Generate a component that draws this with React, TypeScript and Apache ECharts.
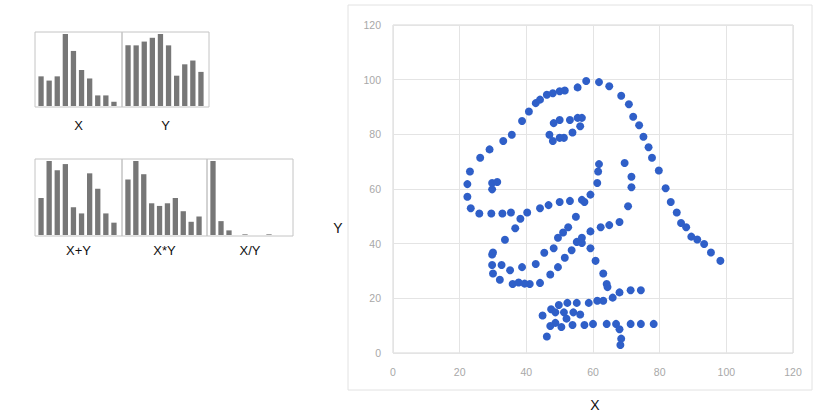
import React, { useEffect, useRef } from "react";
import * as echarts from "echarts";

const dinoX = [55.3846,51.5385,46.1538,42.8205,40.7692,38.7179,35.641,33.0769,28.9744,26.1538,23.0769,22.3077,22.3077,23.3333,25.8974,29.4872,32.8205,35.3846,40.2564,44.1026,46.6667,50,53.0769,56.6667,59.2308,61.2821,61.5385,61.7949,57.4359,54.8718,52.5641,48.2051,49.4872,51.0256,45.3846,42.8205,38.7179,35.1282,32.5641,30,33.5897,36.6667,38.2051,29.7436,29.7436,30,32.0513,35.8974,41.0256,44.1026,47.1795,49.4872,51.5385,53.5897,55.1282,56.6667,59.2308,62.3077,64.8718,67.9487,70.5128,71.5385,71.5385,69.4872,46.9231,48.2051,50,53.0769,55.3846,56.6667,56.1538,53.8462,51.2821,50,47.9487,29.7436,29.7436,31.2821,57.9487,61.7949,64.8718,68.4615,70.7692,72.0513,73.8462,75.1282,76.6667,77.6923,79.7436,81.7949,83.3333,85.1282,86.4103,87.9487,89.4872,93.3333,95.3846,98.2051,56.6667,59.2308,60.7692,63.0769,64.1026,64.359,74.359,71.2821,67.9487,65.8974,63.0769,61.2821,58.7179,55.1282,52.3077,49.7436,47.4359,44.8718,48.7179,51.2821,54.1026,56.1538,52.0513,48.7179,47.1795,46.1538,50.5128,53.8462,57.4359,60,64.1026,66.9231,71.2821,74.359,78.2051,67.9487,68.4615,68.2051,37.6923,39.4872,91.2821,50,47.9487,44.1026];
const dinoY = [97.1795,96.0256,94.4872,91.4103,88.3333,84.8718,79.8718,77.5641,74.4872,71.4103,66.4103,61.7949,57.1795,52.9487,51.0256,51.0256,51.0256,51.4103,51.4103,52.9487,54.1026,55.2564,55.641,56.0256,57.9487,62.1795,66.4103,69.1026,55.2564,49.8718,46.0256,38.3333,42.1795,44.1026,36.6667,32.5641,31.4103,30.2564,32.1795,36.7949,41.4103,45.641,49.1026,36.0256,32.1795,29.1026,26.7949,25.2564,25.2564,25.641,28.718,31.4103,34.8718,37.5641,40.641,42.1795,44.4872,46.0256,46.7949,47.9487,53.718,60.641,64.4872,69.4872,79.8718,84.1026,85.2564,85.2564,86.0256,86.0256,82.9487,80.641,78.718,78.718,77.5641,59.8718,62.1795,62.5641,99.4872,99.1026,97.5641,94.1026,91.0256,86.4103,83.3333,79.1026,75.2564,71.4103,66.7949,60.2564,55.2564,51.4103,47.5641,46.0256,42.5641,39.8718,36.7949,33.718,40.2564,38.3333,33.718,29.1026,25.2564,24.1026,22.9487,22.9487,22.1795,20.2564,19.1026,19.1026,18.3333,18.3333,18.3333,17.5641,16.0256,13.718,14.8718,14.8718,14.8718,14.1026,12.5641,11.0256,9.8718,6.0256,9.4872,10.2564,10.2564,10.641,10.641,10.641,10.641,10.641,10.641,8.718,5.2564,2.9487,25.7692,25.3846,41.5385,95.7692,95,92.6923];

const histX = [14, 12, 14, 34, 26, 17, 13, 5, 5, 2];
const histY = [16, 16, 17, 18, 19, 16, 8, 11, 12, 9];
const histXplusY = [12, 24, 21, 23, 9, 7, 20, 15, 7, 4];
const histXtimesY = [21, 28, 23, 12, 11, 12, 14, 9, 5, 7];
const histXdivY = [112, 21, 7, 0, 1, 0, 0, 1, 0, 0];
const binCats = ["1", "2", "3", "4", "5", "6", "7", "8", "9", "10"];

const axisTicks = [0, 20, 40, 60, 80, 100, 120];

const panels = [
  { name: "X", data: histX, left: 35, top: 32, w: 87, h: 75, labelGap: 18 },
  { name: "Y", data: histY, left: 122, top: 32, w: 87, h: 75, labelGap: 18 },
  { name: "X+Y", data: histXplusY, left: 35, top: 159, w: 87, h: 77, labelGap: 14 },
  { name: "X*Y", data: histXtimesY, left: 122, top: 159, w: 85, h: 77, labelGap: 14 },
  { name: "X/Y", data: histXdivY, left: 207, top: 159, w: 86, h: 77, labelGap: 14 },
];

export default function App() {
  const ref = useRef<HTMLDivElement>(null);
  useEffect(() => {
    if (!ref.current) return;
    const chart = echarts.init(ref.current, undefined, { renderer: "svg" });
    const font = "Liberation Sans, Arial, sans-serif";

    const grids: any[] = [];
    const xAxes: any[] = [];
    const yAxes: any[] = [];
    const series: any[] = [];
    const graphics: any[] = [];

    grids.push({ left: 393, top: 25, width: 400, height: 328, show: true, borderColor: "#d6d6d6", borderWidth: 1, containLabel: false });
    xAxes.push({
      type: "value", gridIndex: 0, min: axisTicks[0], max: axisTicks[axisTicks.length - 1], interval: 20,
      axisLine: { show: false }, axisTick: { show: false },
      splitLine: { show: true, lineStyle: { color: "#e4e4e4", width: 1 } },
      axisLabel: { color: "#a8a8a8", fontSize: 10.5, margin: 13, fontFamily: font },
    });
    yAxes.push({
      type: "value", gridIndex: 0, min: axisTicks[0], max: axisTicks[axisTicks.length - 1], interval: 20,
      axisLine: { show: false }, axisTick: { show: false },
      splitLine: { show: true, lineStyle: { color: "#e4e4e4", width: 1 } },
      axisLabel: { color: "#a8a8a8", fontSize: 10.5, margin: 12, fontFamily: font },
    });
    series.push({
      type: "scatter", xAxisIndex: 0, yAxisIndex: 0, symbolSize: 8,
      itemStyle: { color: "#2f5fc8", opacity: 1 },
      data: dinoX.map((x, i) => [x, dinoY[i]]),
    });

    panels.forEach((p, k) => {
      const gi = k + 1;
      grids.push({ left: p.left + 2, top: p.top + 2, width: p.w - 6, height: p.h - 3, show: false });
      xAxes.push({ type: "category", gridIndex: gi, data: binCats, show: false, boundaryGap: true });
      yAxes.push({ type: "value", gridIndex: gi, min: 0, max: Math.max(...p.data), show: false });
      series.push({
        type: "bar", xAxisIndex: gi, yAxisIndex: gi, data: p.data, barWidth: 5.3,
        itemStyle: { color: "#777777", borderWidth: 0 },
      });
      graphics.push({
        type: "rect", shape: { x: p.left, y: p.top, width: p.w, height: p.h },
        style: { fill: "none", stroke: "#c4c4c4", lineWidth: 1 }, z: 10,
      });
      graphics.push({
        type: "text", x: p.left + p.w / 2, y: p.top + p.h + p.labelGap,
        style: { text: p.name, fill: "#111", font: `13px ${font}`, align: "center", verticalAlign: "middle" },
      });
    });

    graphics.push({
      type: "rect", shape: { x: 348, y: 5, width: 464, height: 385 },
      style: { fill: "none", stroke: "#e2e2e2", lineWidth: 1 }, z: -1,
    });
    graphics.push({
      type: "text", x: 338, y: 228,
      style: { text: "Y", fill: "#111", font: `14px ${font}`, align: "center", verticalAlign: "middle" },
    });
    graphics.push({
      type: "text", x: 595, y: 405,
      style: { text: "X", fill: "#111", font: `14px ${font}`, align: "center", verticalAlign: "middle" },
    });

    chart.setOption({
      animation: false,
      backgroundColor: "#ffffff",
      grid: grids,
      xAxis: xAxes,
      yAxis: yAxes,
      series,
      graphic: graphics,
    });
    return () => chart.dispose();
  }, []);
  return <div ref={ref} style={{ position: "fixed", left: 0, top: 0, width: 821, height: 415 }} />;
}
